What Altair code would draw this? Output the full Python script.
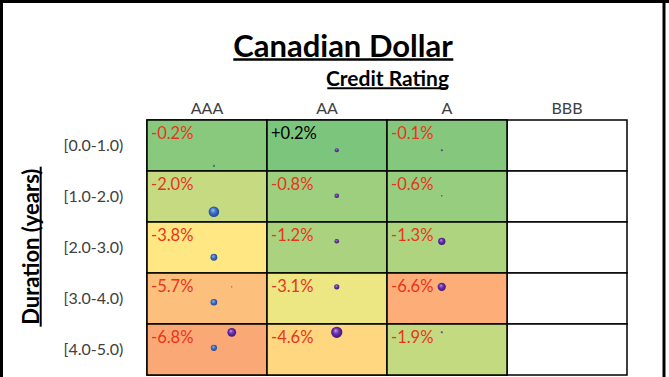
import altair as alt
import pandas as pd

# ---------------- data ----------------
ratings = ["AAA", "AA", "A", "BBB"]
durations = ["[0.0-1.0)", "[1.0-2.0)", "[2.0-3.0)", "[3.0-4.0)", "[4.0-5.0)"]

ret_aaa = [-0.2, -2.0, -3.8, -5.7, -6.8]
ret_aa = [0.2, -0.8, -1.2, -3.1, -4.6]
ret_a = [-0.1, -0.6, -1.3, -6.6, -1.9]
ret_bbb = [None, None, None, None, None]

# bubble series (own x/y coordinate system of the overlaid bubble chart)
blue_x = [0.83, 0.83, 0.83, 0.83, 0.83]
blue_y = [1.34, 2.35, 3.35, 4.34, 5.34]
blue_size = [6, 130, 55, 52, 45]

purple_x = [1, 1, 2, 2, 2, 2, 2, 3, 3, 3, 3, 3]
purple_y = [4, 5, 1, 2, 3, 4, 5, 1, 2, 3, 4, 5]
purple_size = [2, 90, 20, 25, 25, 32, 150, 5, 3, 62, 80, 5]

title_text = "Canadian Dollar"
x_title = "Credit Rating"
y_title = "Duration (years)"

# ---------------- tables ----------------
rows = []
for r, vals in zip(ratings, [ret_aaa, ret_aa, ret_a, ret_bbb]):
    for d, v in zip(durations, vals):
        rows.append({"rating": r, "duration": d, "value": v,
                     "label": "" if v is None else f"{v:+.1f}%"})
cells = pd.DataFrame(rows)

bub = pd.DataFrame(
    [{"bx": x, "by": y, "bs": s, "series": "blue"} for x, y, s in zip(blue_x, blue_y, blue_size)]
    + [{"bx": x, "by": y, "bs": s, "series": "purple"} for x, y, s in zip(purple_x, purple_y, purple_size)]
)

FONT = "Lato"
xband = alt.Scale(domain=ratings, paddingInner=0, paddingOuter=0)
yband = alt.Scale(domain=durations, paddingInner=0, paddingOuter=0)

x_axis = alt.Axis(orient="top", title=None, ticks=False, domain=False, tickSize=0, grid=False,
                  labelAngle=0, labelPadding=4, labelFont=FONT, labelFontSize=16,
                  labelColor="#404040")
y_axis = alt.Axis(orient="left", title=None, ticks=False, domain=False, tickSize=0, grid=False,
                  labelAlign="center", labelPadding=54, labelFont=FONT,
                  labelFontSize=16, labelColor="#404040")

X = alt.X("rating:N", scale=xband, sort=ratings, axis=x_axis)
Y = alt.Y("duration:N", scale=yband, sort=durations, axis=y_axis)

base = alt.Chart(cells).mark_rect(fill="white", stroke="black", strokeWidth=1.5).encode(x=X, y=Y)

colored = alt.Chart(cells).transform_filter("datum.value != null").mark_rect(
    stroke="black", strokeWidth=1.5
).encode(
    x=X, y=Y,
    color=alt.Color("value:Q", legend=None,
                    scale=alt.Scale(domain=[-9.8, -3.65, 0.9],
                                    range=["#F8696B", "#FFEB84", "#63BE7B"],
                                    interpolate="rgb")),
)

labels = alt.Chart(cells).transform_filter("datum.value != null").mark_text(
    align="left", baseline="alphabetic", dx=4, dy=19, font=FONT, fontSize=16.5
).encode(
    x=alt.X("rating:N", scale=xband, sort=ratings, bandPosition=0, axis=x_axis),
    y=alt.Y("duration:N", scale=yband, sort=durations, bandPosition=0, axis=y_axis),
    text="label:N",
    color=alt.condition("datum.value > 0", alt.value("black"), alt.value("#e8341c")),
)

title_df = pd.DataFrame({"t": [title_text]})
xt_df = pd.DataFrame({"t": [x_title]})
yt_df = pd.DataFrame({"t": [y_title]})

title_mark = alt.Chart(title_df).mark_text(
    font=FONT, fontSize=31, fontWeight="bold", align="center", baseline="alphabetic", color="black"
).encode(text="t:N", x=alt.value(196), y=alt.value(-63.3))
title_ul = alt.Chart(title_df).mark_rule(color="black", strokeWidth=2.5).encode(
    x=alt.value(86.3), x2=alt.value(306.3), y=alt.value(-60.5))

xt_mark = alt.Chart(xt_df).mark_text(
    font=FONT, fontSize=21, fontWeight="bold", align="center", baseline="alphabetic", color="black"
).encode(text="t:N", x=alt.value(240.5), y=alt.value(-34.3))
xt_ul = alt.Chart(xt_df).mark_rule(color="black", strokeWidth=2).encode(
    x=alt.value(180.3), x2=alt.value(300.7), y=alt.value(-31.7))

yt_mark = alt.Chart(yt_df).mark_text(
    font=FONT, fontSize=22, fontWeight="bold", align="center", baseline="alphabetic",
    color="black", angle=270
).encode(text="t:N", x=alt.value(-108.5), y=alt.value(126.7))
yt_ul = alt.Chart(yt_df).mark_rule(color="black", strokeWidth=2).encode(
    x=alt.value(-106.3), y=alt.value(46.7), y2=alt.value(206.7))

# outer frame
frame_l = alt.Chart(title_df).mark_rule(color="black", strokeWidth=3).encode(
    x=alt.value(-145.5), y=alt.value(-120), y2=alt.value(257))
frame_t = alt.Chart(title_df).mark_rule(color="black", strokeWidth=3).encode(
    x=alt.value(-147), x2=alt.value(522), y=alt.value(-118.5))
frame_r = alt.Chart(title_df).mark_rule(color="black", strokeWidth=3).encode(
    x=alt.value(517), y=alt.value(-120), y2=alt.value(257))

band_group = alt.layer(base, colored, labels, title_mark, title_ul, xt_mark, xt_ul,
                       yt_mark, yt_ul, frame_l, frame_t, frame_r)

bx_scale = alt.Scale(domain=[0.193, 4.764], nice=False, zero=False)
by_scale = alt.Scale(domain=[0.334, 5.938], nice=False, zero=False, reverse=True)
bs_scale = alt.Scale(domain=[0, 150], range=[0, 128])

blue_grad = {"gradient": "radial", "x1": 0.38, "y1": 0.32, "r1": 0.0,
             "x2": 0.5, "y2": 0.5, "r2": 0.55,
             "stops": [{"offset": 0, "color": "#a9c8f5"},
                       {"offset": 0.45, "color": "#3f74cc"},
                       {"offset": 1, "color": "#1c3f86"}]}
purple_grad = {"gradient": "radial", "x1": 0.38, "y1": 0.32, "r1": 0.0,
               "x2": 0.5, "y2": 0.5, "r2": 0.55,
               "stops": [{"offset": 0, "color": "#c7a3ee"},
                         {"offset": 0.45, "color": "#6a30b0"},
                         {"offset": 1, "color": "#3a1370"}]}

def bubbles(series, grad):
    return alt.Chart(bub).transform_filter(f"datum.series == '{series}'").mark_circle(
        fill=grad, opacity=1
    ).encode(
        x=alt.X("bx:Q", scale=bx_scale, axis=None),
        y=alt.Y("by:Q", scale=by_scale, axis=None),
        size=alt.Size("bs:Q", scale=bs_scale, legend=None),
    )

bubble_group = alt.layer(bubbles("blue", blue_grad), bubbles("purple", purple_grad))

chart = alt.layer(band_group, bubble_group).resolve_scale(
    x="independent", y="independent"
).properties(
    width=480, height=255,
    padding={"left": 147, "top": 120, "right": 42, "bottom": 2},
    autosize=alt.AutoSizeParams(type="none"),
    background="white",
).configure_view(stroke=None)

chart.save("out.html", embed_options={"renderer": "svg", "actions": False})
